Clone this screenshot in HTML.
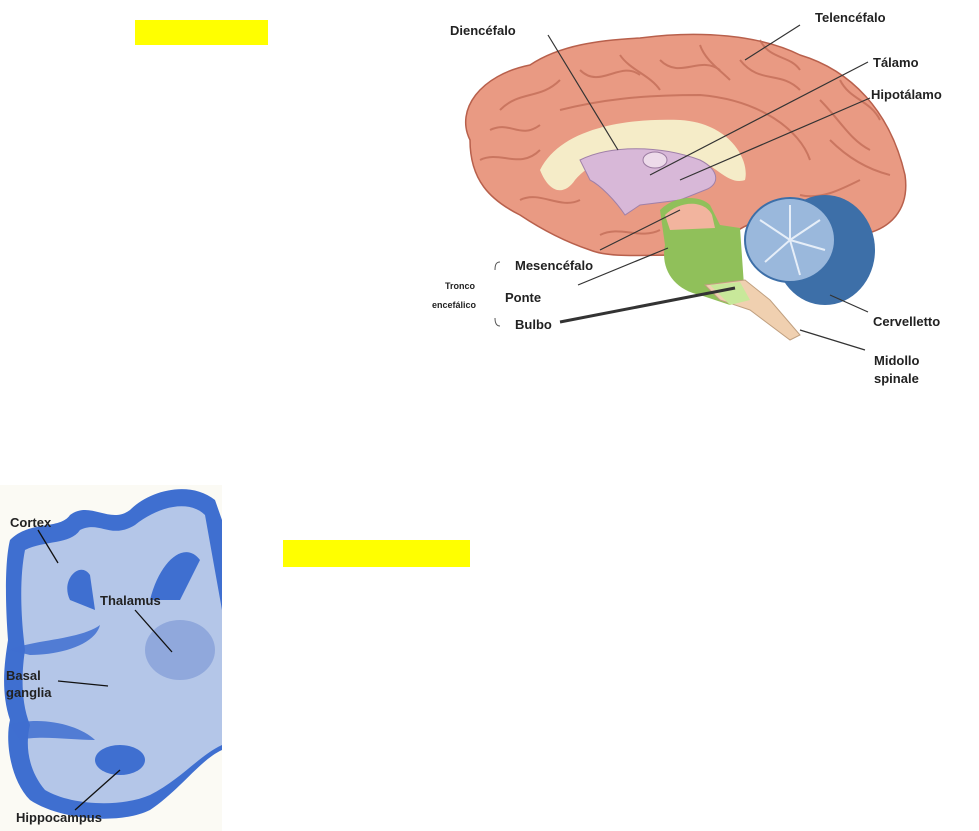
<!DOCTYPE html>
<html><head><meta charset="utf-8"><style>
html,body{margin:0;padding:0;background:#fff;width:979px;height:831px;overflow:hidden}
svg{position:absolute;left:0;top:0}
text{font-family:"Liberation Sans",sans-serif;font-weight:bold;fill:#222}
</style></head><body>
<svg width="979" height="831" viewBox="0 0 979 831">
<rect x="135" y="20" width="133" height="25" fill="#ffff00"/>
<rect x="283" y="540" width="187" height="27" fill="#ffff00"/>
<!-- top brain -->
<path d="M470,140 C455,110 480,75 530,65 C560,45 600,40 640,38 C700,30 760,35 800,55 C850,70 890,110 905,175 C910,210 890,230 860,235 L800,220 C760,215 740,225 720,245 L680,255 C640,255 610,258 590,250 C560,240 535,225 520,215 C490,200 470,180 470,140Z" fill="#e99a83" stroke="#b8604c" stroke-width="1.5"/>
<g stroke="#c06a55" stroke-width="2" fill="none" opacity="0.75">
<path d="M500,110 C520,90 540,100 560,80 M580,70 C600,90 620,60 640,75 M660,60 C680,80 700,55 720,70 M740,60 C760,85 780,70 800,90 M820,100 C840,120 850,140 870,150 M480,160 C500,150 520,170 540,150 M860,180 C840,190 820,200 800,195 M560,110 C600,100 640,95 700,95 C760,100 800,130 810,160"/>
<path d="M490,130 C510,120 520,140 540,125 M620,55 C630,70 650,75 660,90 M760,40 C770,60 790,55 800,70 M840,80 C850,100 870,100 880,120 M830,140 C850,160 870,170 890,175 M520,200 C540,190 560,210 580,200 M600,235 C620,225 640,240 660,230 M700,45 C705,60 720,70 730,80"/>
</g>
<path d="M540,170 C560,130 620,118 680,120 C730,123 750,160 745,180 C730,185 720,170 700,160 C660,145 600,150 575,180 C565,195 550,195 540,170Z" fill="#f5ecc8"/>
<path d="M580,160 C610,145 660,145 700,160 C720,170 720,185 705,190 L680,200 L640,205 L625,215 C615,200 600,185 590,180Z" fill="#d8b8d8" stroke="#a080a8"/>
<ellipse cx="655" cy="160" rx="12" ry="8" fill="#eddbea" stroke="#9a7aa0"/>
<path d="M660,210 C675,195 700,195 710,205 L720,225 L740,228 L745,300 L730,305 L700,295 C675,290 660,270 665,245Z" fill="#90c05a"/>
<path d="M665,215 C680,200 705,200 712,215 L715,228 L670,230Z" fill="#f2b49e"/>
<path d="M705,285 L745,280 L770,300 L800,335 L790,340 L750,310 L720,300Z" fill="#f0d0b0" stroke="#c0a080"/>
<path d="M710,285 L740,282 L750,300 L730,305Z" fill="#c8e89a"/>
<ellipse cx="825" cy="250" rx="50" ry="55" fill="#3d6fa8"/>
<ellipse cx="790" cy="240" rx="45" ry="42" fill="#9ab8dc" stroke="#3d6fa8" stroke-width="2"/>
<g stroke="#e6eef8" stroke-width="2"><line x1="790" y1="240" x2="790" y2="205"/><line x1="790" y1="240" x2="820" y2="220"/><line x1="790" y1="240" x2="825" y2="250"/><line x1="790" y1="240" x2="760" y2="220"/><line x1="790" y1="240" x2="765" y2="262"/><line x1="790" y1="240" x2="800" y2="275"/></g>
<g stroke="#333" stroke-width="1.2">
<line x1="548" y1="35" x2="618" y2="150"/>
<line x1="800" y1="25" x2="745" y2="60"/>
<line x1="868" y1="62" x2="650" y2="175"/>
<line x1="870" y1="98" x2="680" y2="180"/>
<line x1="600" y1="250" x2="680" y2="210"/>
<line x1="578" y1="285" x2="668" y2="248"/>
<line x1="560" y1="322" x2="735" y2="288" stroke-width="3"/>
<line x1="868" y1="312" x2="830" y2="295"/>
<line x1="865" y1="350" x2="800" y2="330"/>
</g>
<path d="M500,262 C496,262 495,265 495,270 M495,318 C495,324 497,326 500,326" stroke="#555" fill="none"/>
<text x="450" y="35" font-size="13">Diencéfalo</text>
<text x="815" y="22" font-size="13">Telencéfalo</text>
<text x="873" y="67" font-size="13">Tálamo</text>
<text x="871" y="99" font-size="13">Hipotálamo</text>
<text x="515" y="270" font-size="13">Mesencéfalo</text>
<text x="505" y="302" font-size="13">Ponte</text>
<text x="515" y="329" font-size="13">Bulbo</text>
<text x="445" y="289" font-size="9">Tronco</text>
<text x="432" y="308" font-size="9">encefálico</text>
<text x="873" y="326" font-size="13">Cervelletto</text>
<text x="874" y="365" font-size="13">Midollo</text>
<text x="874" y="383" font-size="13">spinale</text>
<!-- bottom slice -->
<rect x="0" y="485" width="222" height="346" fill="#fbfaf4"/>
<path d="M10,540 C30,520 60,530 70,515 C90,500 110,525 130,510 C150,490 190,480 215,500 L222,520 L222,750 C200,760 180,790 150,810 C120,825 60,820 30,800 C10,780 5,740 10,720 C0,690 5,660 8,640 C5,600 5,560 10,540Z" fill="#3f6fd0"/>
<path d="M25,550 C45,540 70,545 80,530 C100,520 110,540 135,525 C160,505 190,500 205,515 L222,610 L222,745 C200,755 180,780 150,795 C120,808 70,805 45,790 C28,770 25,745 30,725 C20,700 22,670 25,650 C20,610 20,575 25,550Z" fill="#b4c6e8"/>
<path d="M70,600 C60,580 80,560 90,575 L95,610Z M150,600 C160,560 185,540 200,560 L180,600Z" fill="#3f6fd0"/>
<path d="M10,650 C30,640 80,640 100,625 C95,645 60,655 30,655Z M10,725 C40,715 80,725 95,740 C70,740 40,735 20,740Z" fill="#3f6fd0" opacity="0.85"/>
<ellipse cx="180" cy="650" rx="35" ry="30" fill="#90a8dc"/>
<ellipse cx="120" cy="760" rx="25" ry="15" fill="#3f6fd0"/>
<g stroke="#111" stroke-width="1.3">
<line x1="38" y1="530" x2="58" y2="563"/>
<line x1="135" y1="610" x2="172" y2="652"/>
<line x1="58" y1="681" x2="108" y2="686"/>
<line x1="75" y1="810" x2="120" y2="770"/>
</g>
<text x="10" y="527" font-size="13" fill="#000">Cortex</text>
<text x="100" y="605" font-size="13" fill="#000">Thalamus</text>
<text x="6" y="680" font-size="13" fill="#000">Basal</text>
<text x="6" y="697" font-size="13" fill="#000">ganglia</text>
<text x="16" y="822" font-size="13" fill="#000">Hippocampus</text>
</svg>
</body></html>
